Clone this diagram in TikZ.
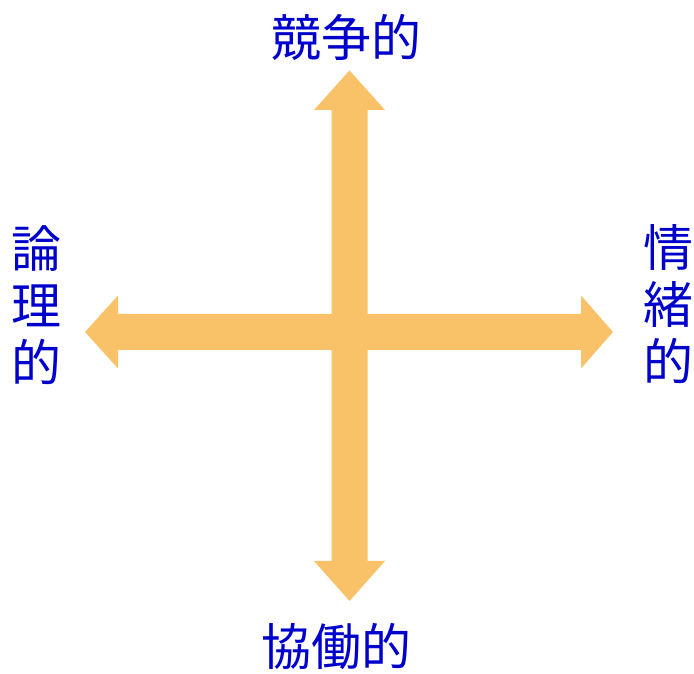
\documentclass[tikz,border=0pt]{standalone}
\usepackage{fontspec}
\newfontfamily\jpfont{Noto Sans CJK JP}
\definecolor{arrowc}{RGB}{249,193,104}
\definecolor{txtc}{RGB}{0,0,204}
\begin{document}
\begin{tikzpicture}[x=1pt,y=1pt,
  lbl/.style={inner sep=0pt, text=txtc, font=\jpfont\fontsize{50}{57}\selectfont},
  vlbl/.style={lbl, align=center}]
\useasboundingbox (0,0) rectangle (694,674);
% vertical double arrow
\fill[arrowc]
  (331.5,113) -- (331.5,564) -- (314,564) -- (349.5,603.5) -- (385,564) -- (367.5,564)
  -- (367.5,113) -- (385,113) -- (349.5,73) -- (314,113) -- cycle;
% horizontal double arrow
\fill[arrowc]
  (118,324) -- (581,324) -- (581,305.5) -- (613,342) -- (581,378.5) -- (581,360)
  -- (118,360) -- (118,378.5) -- (85,342) -- (118,305.5) -- cycle;
\node[lbl] (top) at (346,637) {競争的};
\node[lbl] (bottom) at (336,27) {協働的};
\node[vlbl] (left) at (37,369) {論\\理\\的};
\node[vlbl] (right) at (668,370) {情\\緒\\的};
\end{tikzpicture}
\end{document}
